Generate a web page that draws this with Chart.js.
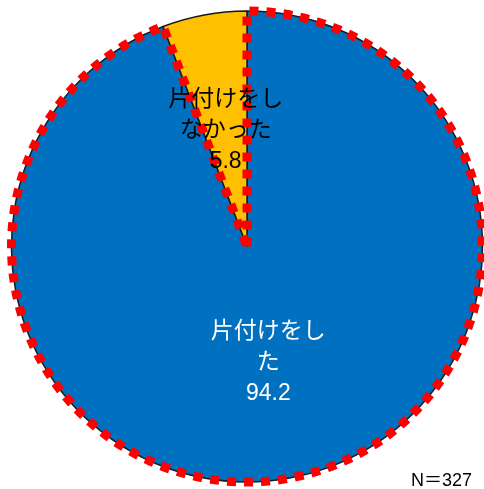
<!DOCTYPE html>
<html lang="ja">
<head>
<meta charset="utf-8">
<title>片付けの有無</title>
<script src="https://cdn.jsdelivr.net/npm/chart.js@4/dist/chart.umd.min.js"></script>
<style>
  html, body { margin: 0; padding: 0; background: #ffffff; }
  #wrap { position: relative; width: 484px; height: 489px; }
</style>
</head>
<body>
<div id="wrap"><canvas id="pie" width="484" height="489"></canvas></div>
<script>
// Answers (percent), drawn clockwise from 12 o'clock
const categories = [['片付けをし', 'た'], ['片付けをし', 'なかった']];
const shares = [94.2, 5.8];
const sliceColors = ['#0070C0', '#FFC000'];
const labelColors = ['#ffffff', '#000000'];
const sampleNote = 'N＝327';

const FONT = '"Liberation Sans", Arial, "Noto Sans CJK JP", sans-serif';

// Red dotted outline around the first (selected) slice
const outlinePlugin = {
  id: 'sliceOutline',
  afterDatasetsDraw(chart) {
    const arc = chart.getDatasetMeta(0).data[0];
    const { x, y, startAngle, endAngle, outerRadius } = arc.getProps(['x', 'y', 'startAngle', 'endAngle', 'outerRadius'], true);
    const ctx = chart.ctx;
    ctx.save();
    ctx.strokeStyle = '#FF0000';
    ctx.lineWidth = 9;
    ctx.lineCap = 'butt';
    ctx.setLineDash([9, 8]);
    ctx.beginPath();
    ctx.moveTo(x, y);
    ctx.lineTo(x + Math.cos(startAngle) * outerRadius, y + Math.sin(startAngle) * outerRadius);
    ctx.arc(x, y, outerRadius, startAngle, endAngle);
    ctx.closePath();
    ctx.stroke();
    ctx.restore();
  }
};

// Category name and value inside each slice
const sliceLabelPlugin = {
  id: 'sliceLabels',
  afterDraw(chart) {
    const ctx = chart.ctx;
    const meta = chart.getDatasetMeta(0);
    ctx.save();
    ctx.textAlign = 'center';
    ctx.textBaseline = 'middle';
    ctx.font = '23px ' + FONT;
    const lineGap = 31;
    meta.data.forEach((arc, i) => {
      const pos = arc.tooltipPosition(true);
      const lines = categories[i].concat([shares[i].toFixed(1)]);
      const top = pos.y - (lines.length - 1) * lineGap / 2;
      ctx.fillStyle = labelColors[i];
      lines.forEach((t, k) => ctx.fillText(t, pos.x, top + k * lineGap));
    });
    // sample size note
    ctx.font = '18px ' + FONT;
    ctx.fillStyle = '#000000';
    ctx.textAlign = 'right';
    ctx.textBaseline = 'alphabetic';
    ctx.fillText(sampleNote, 472, 486);
    ctx.restore();
  }
};

new Chart(document.getElementById('pie'), {
  type: 'pie',
  data: {
    labels: categories.map(c => c.join('')),
    datasets: [{
      data: shares,
      backgroundColor: sliceColors,
      borderColor: '#1a1a1a',
      borderWidth: 1.5
    }]
  },
  options: {
    responsive: false,
    animation: false,
    events: [],
    radius: 235.5,
    layout: { padding: { left: 11, right: 1, top: 6, bottom: 2 } },
    plugins: {
      legend: { display: false },
      tooltip: { enabled: false },
      title: { display: false }
    }
  },
  plugins: [outlinePlugin, sliceLabelPlugin]
});
</script>
</body>
</html>
